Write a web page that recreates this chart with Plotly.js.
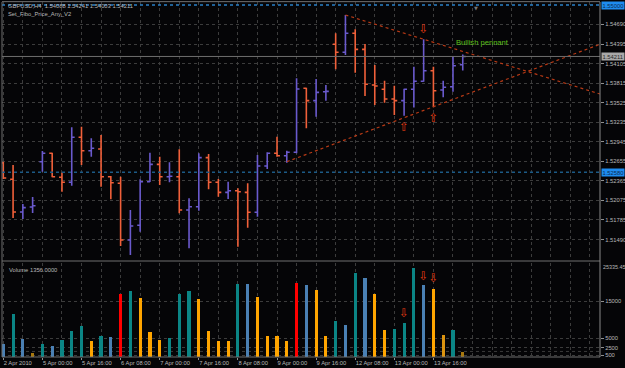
<!DOCTYPE html>
<html><head><meta charset="utf-8">
<script src="https://cdn.plot.ly/plotly-3.0.1.min.js"></script>
<style>html,body{margin:0;padding:0;background:#000;overflow:hidden}#chart{width:625px;height:368px}</style>
</head><body><div id="chart"></div>
<script>
// ---- data (GBPUSD, H4) ----
const openP  = [1.52630,1.52386,1.51900,1.51974,1.52647,1.52772,1.52415,1.52341,1.53010,1.52811,1.52836,1.52424,1.52326,1.51484,1.51702,1.52350,1.52608,1.52424,1.52424,1.51929,1.51978,1.52707,1.52341,1.52192,1.52216,1.52192,1.51895,1.52583,1.52772,1.52736,1.52787,1.53738,1.53554,1.53687,1.54392,1.54273,1.54555,1.54317,1.53787,1.53723,1.53579,1.53554,1.53723,1.53842,1.53999,1.53713,1.53762,1.54088];
const highP  = [1.52647,1.52598,1.52019,1.52123,1.52806,1.52780,1.52484,1.53158,1.53167,1.52995,1.53044,1.52435,1.52424,1.51929,1.52386,1.52781,1.52721,1.52638,1.52831,1.52103,1.52772,1.52762,1.52390,1.52350,1.52252,1.52326,1.52747,1.52787,1.53019,1.52811,1.53886,1.53747,1.53876,1.53787,1.54555,1.54827,1.54615,1.54396,1.54084,1.53851,1.53777,1.53732,1.54059,1.54466,1.54059,1.53851,1.54218,1.54241];
const lowP   = [1.52390,1.51811,1.51796,1.51885,1.52499,1.52415,1.52201,1.52290,1.52598,1.52721,1.52276,1.52088,1.51394,1.51261,1.51607,1.52345,1.52301,1.52341,1.51880,1.51360,1.51919,1.52237,1.52127,1.52093,1.51384,1.51666,1.51830,1.52539,1.52721,1.52632,1.52772,1.53143,1.53316,1.53554,1.54020,1.54233,1.53970,1.53623,1.53490,1.53524,1.53341,1.53331,1.53453,1.53836,1.53456,1.53604,1.53687,1.54003];
const closeP = [1.52405,1.51900,1.51964,1.51993,1.52772,1.52424,1.52341,1.53010,1.52811,1.52846,1.52424,1.52335,1.51484,1.51692,1.52350,1.52608,1.52424,1.52430,1.51929,1.51978,1.52707,1.52341,1.52192,1.52216,1.52201,1.51895,1.52583,1.52772,1.52736,1.52787,1.53727,1.53554,1.53678,1.53692,1.54273,1.54555,1.54317,1.53797,1.53772,1.53579,1.53554,1.53723,1.53842,1.53999,1.53702,1.53753,1.54074,1.54211];
const volume = [3460,11570,4890,1030,3460,2840,4620,6890,8240,4190,5540,5270,16970,17700,15890,6700,4620,5080,16970,17700,15700,6890,4350,4190,19680,19680,16080,5540,5540,4350,19950,19320,17970,5700,9760,8510,22650,21300,16970,7320,7600,9050,24000,19490,18320,5970,7320,1356];
// volume class from the indicator: T teal, B blue, O orange, R red, D dim (current/low), M medium orange
const volumeClass = ['B','T','B','D','T','B','T','T','T','O','T','B','R','T','O','O','O','T','T','T','O','O','O','O','T','B','O','O','O','O','R','B','O','O','T','B','T','B','O','O','T','T','T','B','O','M','T','D'];
const xTickIndex  = [0,4,8,12,16,20,24,28,32,36,40,44];
const xTickLabels = ['2 Apr 2010','5 Apr 00:00','5 Apr 16:00','6 Apr 08:00','7 Apr 00:00','7 Apr 16:00','8 Apr 08:00','9 Apr 00:00','9 Apr 16:00','12 Apr 08:00','13 Apr 00:00','13 Apr 16:00'];
const priceTicks  = [1.54690,1.54395,1.54105,1.53815,1.53525,1.53235,1.52945,1.52655,1.52365,1.52075,1.51785,1.51490,1.51200];
const volumeTicks = [15000,5000,2500,500];
const volumeGridExtra = [1500];
const volumeMax = 25335.45;
const lastVolume = 1356;
const bidPrice = 1.54211;
const fiboLevels = [1.54975, 1.52490];
const fiboLabels = ['1.55000', '1.52580'];
const upperTrendX = [35, 61.04], upperTrendY = [1.54827, 1.53653];
const lowerTrendX = [29, 61.04], lowerTrendY = [1.52647, 1.54392];
const priceArrowX = [43, 41, 44], priceArrowY = [1.54597, 1.53148, 1.53282], priceArrowDir = ['down','up','up'];
const volArrowX = [41, 43, 44], volArrowY = [11570, 21570, 21030];
const patternLabel = {x: 48.97, y: 1.54421, text: 'Bullish pennant'};

// ---- drawing ----
const idx = openP.map((_, i) => i);
const classColor = {T:'#0b8585', B:'#4a80b4', O:'#ffa500', R:'#ff0000', D:'#a8780e', M:'#dc9410'};
const fontF = 'Liberation Sans, Arial, sans-serif';
const lblColor = '#b8b8b8';
const gridC = '#3c3c3c';
const arrowColor = '#e03a12';
const py = px => (357 - px) / 355;   // paper y from pixel

const traces = [
  {type:'ohlc', x: idx, open: openP, high: highP, low: lowP, close: closeP,
   xaxis:'x', yaxis:'y', tickwidth:0.3, hoverinfo:'skip',
   increasing:{line:{color:'#6a5acd', width:1.6}},
   decreasing:{line:{color:'#f0603a', width:1.6}}},
  {type:'bar', x: idx, y: volume, xaxis:'x', yaxis:'y2', width:0.32,
   marker:{color: volumeClass.map(c => classColor[c]), line:{width:0}}, hoverinfo:'skip'},
  {type:'scatter', mode:'text', x: priceArrowX, y: priceArrowY, xaxis:'x', yaxis:'y',
   text: priceArrowDir.map(d => d === 'up' ? '⇧' : '⇩'),
   textfont:{family:'DejaVu Sans', size:12, color:arrowColor}, hoverinfo:'skip'},
  {type:'scatter', mode:'text', x: volArrowX, y: volArrowY, xaxis:'x', yaxis:'y2',
   text: volArrowX.map(() => '⇩'),
   textfont:{family:'DejaVu Sans', size:12, color:arrowColor}, hoverinfo:'skip'}
];

const shapes = [
  {type:'line', xref:'x', yref:'y', x0:upperTrendX[0], x1:upperTrendX[1], y0:upperTrendY[0], y1:upperTrendY[1], line:{color:'#b83a16', width:1.2, dash:'dot'}},
  {type:'line', xref:'x', yref:'y', x0:lowerTrendX[0], x1:lowerTrendX[1], y0:lowerTrendY[0], y1:lowerTrendY[1], line:{color:'#b83a16', width:1.2, dash:'dot'}},
  {type:'line', xref:'paper', yref:'y', x0:0, x1:1, y0:bidPrice, y1:bidPrice, line:{color:'#6e6e6e', width:1}},
  ...fiboLevels.map((v, k) => ({type:'line', xref:'paper', yref:'y', x0:0, x1:1, y0:v, y1:v, line:{color: k === 0 ? '#2a80c8' : '#1c5a86', width:1.6, dash:'dot'}})),
  ...volumeGridExtra.map(v => ({type:'line', xref:'paper', yref:'y2', x0:0, x1:1, y0:v, y1:v, layer:'below', line:{color:gridC, width:1, dash:'dot'}})),
  {type:'line', xref:'paper', yref:'paper', x0:0, x1:1, y0:1.001, y1:1.001, line:{color:'#707070', width:1}},
  {type:'line', xref:'paper', yref:'paper', x0:0, x1:1, y0:py(261), y1:py(261), line:{color:'#707070', width:1}},
  {type:'line', xref:'paper', yref:'paper', x0:0, x1:1, y0:0, y1:0, line:{color:'#707070', width:1}},
  {type:'line', xref:'paper', yref:'paper', x0:0, x1:0, y0:0, y1:1, line:{color:'#707070', width:1}},
  {type:'line', xref:'paper', yref:'paper', x0:1, x1:1, y0:0, y1:1, line:{color:'#8a8a8a', width:1}}
];

const smallFont = {family: fontF, size: 5.8, color: lblColor};
const annotations = [
  {xref:'paper', yref:'paper', x:0.006, y:py(6.5), xanchor:'left', yanchor:'middle', showarrow:false,
   text:'GBPUSD,H4  ' + [openP[47], highP[47], lowP[47], closeP[47]].map(v => v.toFixed(5)).join(' '), font: smallFont},
  {xref:'paper', yref:'paper', x:0.006, y:py(14), xanchor:'left', yanchor:'middle', showarrow:false,
   text:'Set_Fibo_Price_Any_V2', font: smallFont},
  {xref:'paper', yref:'paper', x:0.008, y:py(269.5), xanchor:'left', yanchor:'middle', showarrow:false,
   text:'Volume ' + lastVolume.toFixed(4), font: smallFont},
  {xref:'x', yref:'y', x:patternLabel.x, y:patternLabel.y, showarrow:false, text:patternLabel.text,
   font:{family: fontF, size:7.6, color:'#5ec21c'}},
  {xref:'paper', yref:'paper', x:1, y:py(266.5), xanchor:'left', yanchor:'middle', xshift:1, showarrow:false,
   text: volumeMax.toFixed(2), font:{family: fontF, size: 5.4, color: lblColor}},
  {xref:'paper', yref:'y', x:1, y:fiboLevels[0], xanchor:'left', yanchor:'middle', xshift:1, showarrow:false,
   text: fiboLabels[0], bgcolor:'#1e8cf0', borderpad:0.5, font:{family:fontF, size:5.8, color:'#0c2c50'}},
  {xref:'paper', yref:'y', x:1, y:fiboLevels[1], xanchor:'left', yanchor:'middle', xshift:1, showarrow:false,
   text: fiboLabels[1], bgcolor:'#1e8cf0', borderpad:0.5, font:{family:fontF, size:5.8, color:'#0c2c50'}},
  {xref:'paper', yref:'y', x:1, y:bidPrice, xanchor:'left', yanchor:'middle', xshift:1, showarrow:false,
   text: bidPrice.toFixed(5), bgcolor:'#a8a8a8', borderpad:0.5, font:{family:fontF, size:5.8, color:'#2a2a2a'}},
  {xref:'paper', yref:'paper', x:(480-2)/598, y:py(3), showarrow:false, text:'▼',
   font:{family:'DejaVu Sans', size:5, color:'#777777'}}
];

const layout = {
  width:625, height:368,
  margin:{l:2, r:25, t:2, b:11, pad:0},
  paper_bgcolor:'#050507', plot_bgcolor:'#050507',
  showlegend:false, hovermode:false, bargap:0,
  xaxis:{range:[-0.133, 61.04], anchor:'y2', rangeslider:{visible:false},
    tickmode:'array', tickvals:xTickIndex, ticktext:xTickLabels, tickangle:0,
    ticklabelposition:'outside right', ticks:'outside', ticklen:2, tickcolor:'#909090',
    tickfont:smallFont, showgrid:true, gridcolor:gridC, griddash:'dot', gridwidth:1,
    minor:{tickmode:'linear', tick0:0, dtick:2, showgrid:true, gridcolor:gridC, griddash:'dot', gridwidth:1, ticks:''},
    zeroline:false, showline:false, fixedrange:true},
  yaxis:{domain:[py(259), 1], range:[1.512013, 1.550203], side:'right', anchor:'x',
    tickmode:'array', tickvals:priceTicks, ticktext:priceTicks.map(v => v.toFixed(5)),
    ticks:'outside', ticklen:3, tickcolor:'#909090', tickfont:smallFont,
    showgrid:true, gridcolor:gridC, griddash:'dot', gridwidth:1, zeroline:false, showline:false, fixedrange:true},
  yaxis2:{domain:[0, py(263)], range:[0, volumeMax], side:'right', anchor:'x',
    tickmode:'array', tickvals:volumeTicks, ticktext:volumeTicks.map(String),
    ticks:'outside', ticklen:3, tickcolor:'#909090', tickfont:smallFont,
    showgrid:true, gridcolor:gridC, griddash:'dot', gridwidth:1, zeroline:false, showline:false, fixedrange:true},
  shapes: shapes,
  annotations: annotations
};

Plotly.newPlot('chart', traces, layout, {staticPlot:true, displayModeBar:false});
</script>
</body></html>
